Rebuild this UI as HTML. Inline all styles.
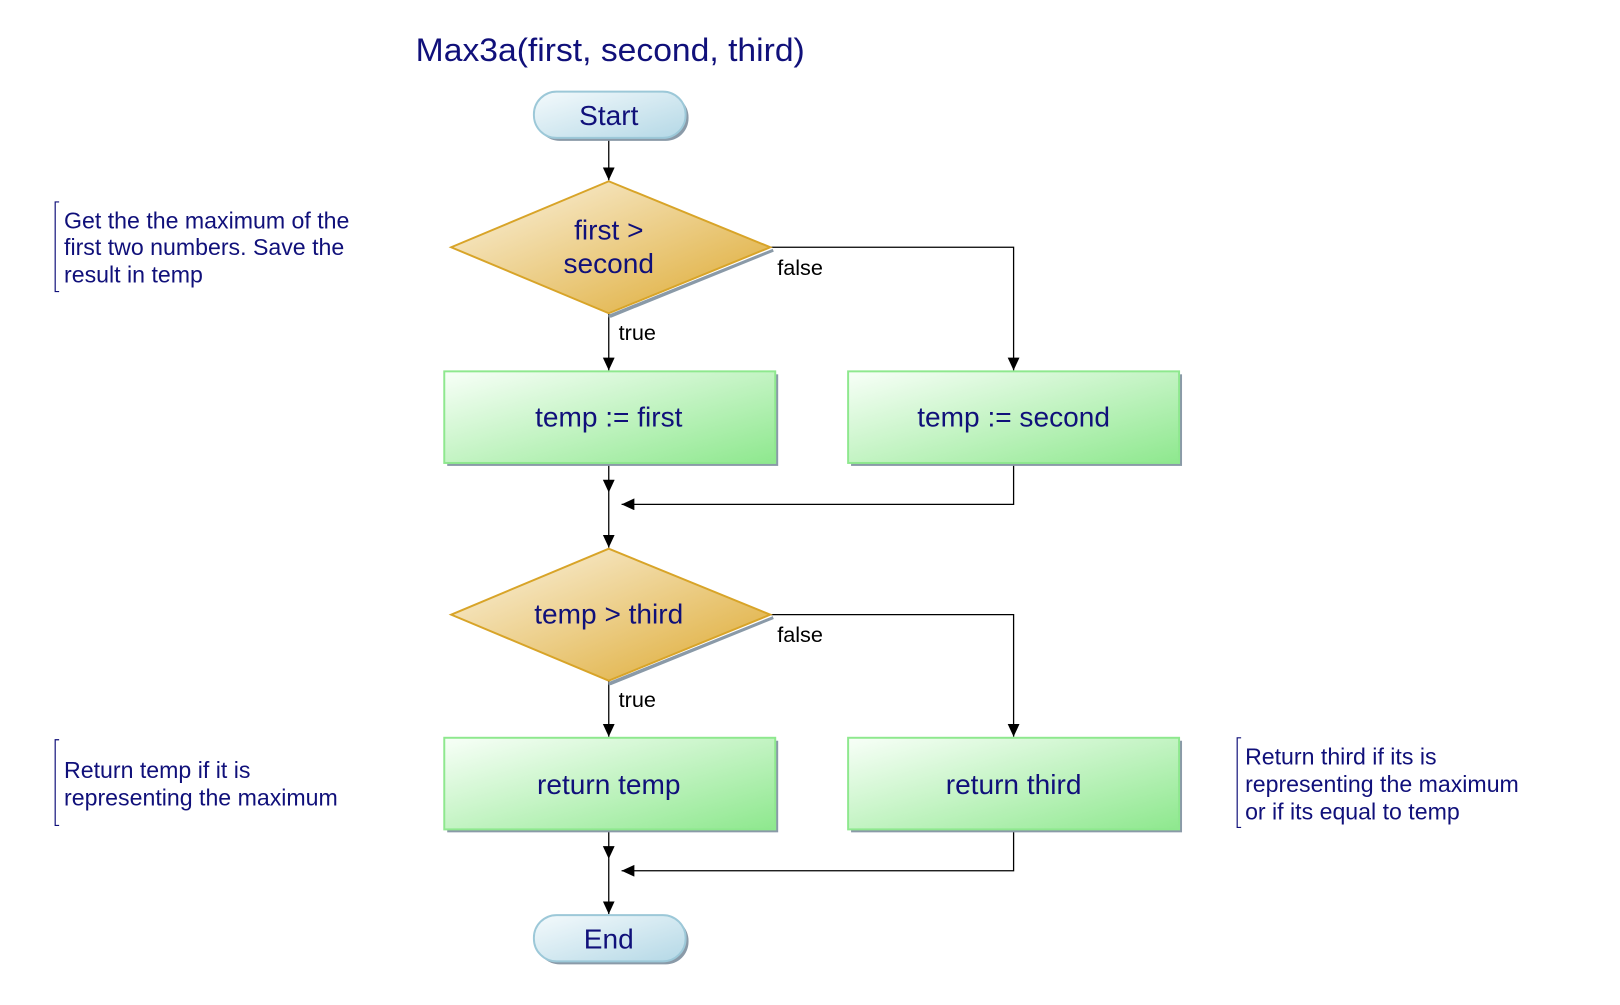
<!DOCTYPE html>
<html><head><meta charset="utf-8"><style>
html,body{margin:0;padding:0;background:#fff;}
svg{display:block;}
text{font-family:"Liberation Sans",Arial,sans-serif;}
.n{fill:#10107a;font-size:28.5px;text-anchor:middle;}
.l{fill:#000;font-size:22px;}
.c{fill:#10107a;font-size:23.5px;}
</style></head><body>
<svg width="1620" height="1005" viewBox="0 0 1620 1005" xmlns="http://www.w3.org/2000/svg">
<defs>
<linearGradient id="gb" x1="0" y1="0" x2="1" y2="1"><stop offset="0" stop-color="#f8fff8"/><stop offset="1" stop-color="#8ee88e"/></linearGradient>
<linearGradient id="gd" x1="0" y1="0" x2="1" y2="1"><stop offset="0.1" stop-color="#f8ecd0"/><stop offset="0.9" stop-color="#e0b040"/></linearGradient>
<linearGradient id="gp" x1="0" y1="0" x2="1" y2="1"><stop offset="0" stop-color="#f4fafc"/><stop offset="1" stop-color="#b4d8e6"/></linearGradient>
<marker id="a" markerWidth="14" markerHeight="14" refX="13" refY="6" orient="auto" markerUnits="userSpaceOnUse"><path d="M0,0 L13,6 L0,12 Z" fill="#000"/></marker>
</defs>
<g transform="translate(2,1) scale(0.985)">
<text x="420" y="61" style="fill:#10107a;font-size:33px" textLength="395" lengthAdjust="spacingAndGlyphs">Max3a(first, second, third)</text>

<g stroke="#000" stroke-width="1.3" fill="none">
<line x1="616" y1="139" x2="616" y2="182" marker-end="url(#a)"/>
<line x1="616" y1="317" x2="616" y2="375" marker-end="url(#a)"/>
<polyline points="780,250 1027,250 1027,375" marker-end="url(#a)"/>
<line x1="616" y1="469" x2="616" y2="499" marker-end="url(#a)"/>
<polyline points="1027,469 1027,511 629,511" marker-end="url(#a)"/>
<line x1="616" y1="499" x2="616" y2="555" marker-end="url(#a)"/>
<line x1="616" y1="690" x2="616" y2="747" marker-end="url(#a)"/>
<polyline points="780,623 1027,623 1027,747" marker-end="url(#a)"/>
<line x1="616" y1="841" x2="616" y2="871" marker-end="url(#a)"/>
<polyline points="1027,841 1027,883 629,883" marker-end="url(#a)"/>
<line x1="616" y1="871" x2="616" y2="927" marker-end="url(#a)"/>
</g>

<rect x="543" y="95" width="154" height="47" rx="23" fill="#8a9aa8"/>
<rect x="540" y="92" width="154" height="47" rx="23" fill="url(#gp)" stroke="#9cc8d8" stroke-width="2"/>
<text class="n" x="616" y="126">Start</text>

<polygon points="618,320 783,253 616,320" fill="#8a9aa8" stroke="#8a9aa8" stroke-width="3"/>
<polygon points="456,250 616,183 780,250 616,317" fill="url(#gd)" stroke="#d8a428" stroke-width="2"/>
<text class="n" x="616" y="242">first &gt;</text>
<text class="n" x="616" y="276">second</text>

<rect x="452" y="379" width="336" height="93" fill="#8a9aa8"/>
<rect x="449" y="376" width="336" height="93" fill="url(#gb)" stroke="#8ee88e" stroke-width="2"/>
<text class="n" x="616" y="432">temp := first</text>
<rect x="862" y="379" width="336" height="93" fill="#8a9aa8"/>
<rect x="859" y="376" width="336" height="93" fill="url(#gb)" stroke="#8ee88e" stroke-width="2"/>
<text class="n" x="1027" y="432">temp := second</text>

<polygon points="618,693 783,626 616,693" fill="#8a9aa8" stroke="#8a9aa8" stroke-width="3"/>
<polygon points="456,623 616,556 780,623 616,690" fill="url(#gd)" stroke="#d8a428" stroke-width="2"/>
<text class="n" x="616" y="632">temp &gt; third</text>

<rect x="452" y="751" width="336" height="93" fill="#8a9aa8"/>
<rect x="449" y="748" width="336" height="93" fill="url(#gb)" stroke="#8ee88e" stroke-width="2"/>
<text class="n" x="616" y="805">return temp</text>
<rect x="862" y="751" width="336" height="93" fill="#8a9aa8"/>
<rect x="859" y="748" width="336" height="93" fill="url(#gb)" stroke="#8ee88e" stroke-width="2"/>
<text class="n" x="1027" y="805">return third</text>

<rect x="543" y="931" width="154" height="47" rx="23" fill="#8a9aa8"/>
<rect x="540" y="928" width="154" height="47" rx="23" fill="url(#gp)" stroke="#9cc8d8" stroke-width="2"/>
<text class="n" x="616" y="962">End</text>

<text class="l" x="787" y="278">false</text>
<text class="l" x="626" y="344">true</text>
<text class="l" x="787" y="651">false</text>
<text class="l" x="626" y="717">true</text>

<g stroke="#10107a" stroke-width="1.2" fill="none">
<polyline points="58,204 54,204 54,295 58,295"/>
<polyline points="58,750 54,750 54,837 58,837"/>
<polyline points="1258,748 1254,748 1254,839 1258,839"/>
</g>
<text class="c" x="63" y="231">Get the the maximum of the</text>
<text class="c" x="63" y="258">first two numbers. Save the</text>
<text class="c" x="63" y="286">result in temp</text>
<text class="c" x="63" y="789">Return temp if it is</text>
<text class="c" x="63" y="817">representing the maximum</text>
<text class="c" x="1262" y="775">Return third if its is</text>
<text class="c" x="1262" y="803">representing the maximum</text>
<text class="c" x="1262" y="831">or if its equal to temp</text>
</g>
</svg>
</body></html>
